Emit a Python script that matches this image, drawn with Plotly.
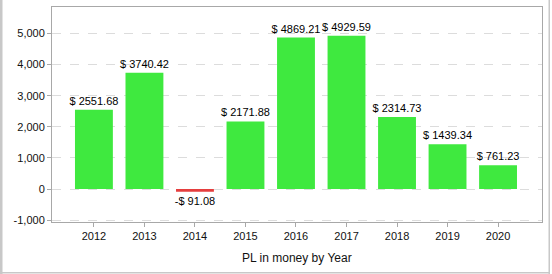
import plotly.graph_objects as go

years = ["2012", "2013", "2014", "2015", "2016", "2017", "2018", "2019", "2020"]
pl_values = [2551.68, 3740.42, -91.08, 2171.88, 4869.21, 4929.59, 2314.73, 1439.34, 761.23]
y_tick_vals = [-1000, 0, 1000, 2000, 3000, 4000, 5000]
y_tick_text = ["-1,000", "0", "1,000", "2,000", "3,000", "4,000", "5,000"]
x_title = "PL in money by Year"

GREEN = "rgb(63,233,63)"
RED = "rgb(229,62,62)"

def fmt(v):
    return f"$ {v:.2f}" if v >= 0 else f"-$ {abs(v):.2f}"

colors = [GREEN if v >= 0 else RED for v in pl_values]
labels = [fmt(v) for v in pl_values]

fig = go.Figure(go.Bar(
    x=years, y=pl_values, width=0.75,
    marker=dict(color=colors, line=dict(width=0)),
    text=labels, textposition="outside", cliponaxis=False,
    constraintext="none",
    textfont=dict(family="Liberation Sans, Arial, sans-serif", size=11, color="#000"),
    hoverinfo="skip",
))

W, H = 552, 274
L, R, T, B = 52, 10, 7, 52
pw, ph = W - L - R, H - T - B

def px_x(px):
    return (px - L) / pw

def px_y(py):
    return (H - B - py) / ph

grey = "#c8c8c8"
shapes = [
    dict(type="rect", xref="paper", yref="paper", x0=px_x(0), x1=px_x(2.5), y0=px_y(274), y1=px_y(0),
         fillcolor=grey, line=dict(width=0), layer="below"),
    dict(type="rect", xref="paper", yref="paper", x0=px_x(548.5), x1=px_x(550), y0=px_y(274), y1=px_y(0),
         fillcolor=grey, line=dict(width=0), layer="below"),
    dict(type="rect", xref="paper", yref="paper", x0=px_x(0), x1=px_x(550), y0=px_y(273.5), y1=px_y(272),
         fillcolor=grey, line=dict(width=0), layer="below"),
]

fig.update_layout(
    width=W, height=H,
    margin=dict(l=L, r=R, t=T, b=B),
    paper_bgcolor="white", plot_bgcolor="white",
    showlegend=False,
    font=dict(family="Liberation Sans, Arial, sans-serif", size=11, color="#111"),
    shapes=shapes,
    annotations=[dict(
        text=x_title, xref="paper", yref="paper", x=0.5, y=px_y(258),
        xanchor="center", yanchor="middle", showarrow=False,
        font=dict(size=12, color="#111"),
    )],
    xaxis=dict(
        type="category", range=[-0.83, 8.87],
        showline=True, linecolor="#a8a8a8", linewidth=1, mirror=True,
        ticks="outside", ticklen=4, tickcolor="#a8a8a8",
        showgrid=False,
        tickfont=dict(size=11, color="#111"),
    ),
    yaxis=dict(
        range=[-1060, 5850],
        tickvals=y_tick_vals, ticktext=y_tick_text,
        showline=True, linecolor="#a8a8a8", linewidth=1, mirror=True,
        ticks="outside", ticklen=4, tickcolor="#a8a8a8",
        showgrid=True, gridcolor="#dcdcdc", griddash="dash", gridwidth=1,
        zeroline=False,
        tickfont=dict(size=11, color="#111"),
    ),
)

fig.write_html("out.html")
